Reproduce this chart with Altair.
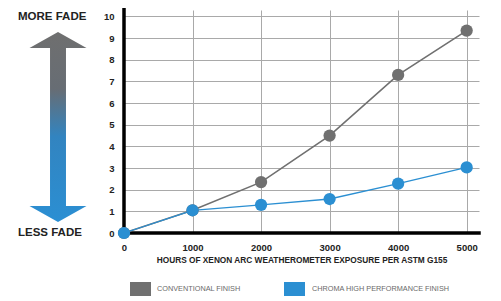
import altair as alt
import pandas as pd

hours = [0, 1000, 2000, 3000, 4000, 5000]
conventional = [0, 1.05, 2.35, 4.5, 7.3, 9.35]
chroma = [0, 1.05, 1.3, 1.57, 2.28, 3.03]
y_ticks = [0, 1, 2, 3, 4, 5, 6, 7, 8, 9, 10]
series_names = ["CONVENTIONAL FINISH", "CHROMA HIGH PERFORMANCE FINISH"]
series_colors = ["#707070", "#2b8fd2"]

FONT = "Liberation Sans"

df_conv = pd.DataFrame({"h": hours, "v": conventional})
df_chr = pd.DataFrame({"h": hours, "v": chroma})
one = pd.DataFrame({"a": [0]})
axis_x_df = pd.DataFrame({"h": [0, 5180], "v": [0, 0]})
axis_y_df = pd.DataFrame({"h": [0, 0], "v": [0, 10.4]})

xscale = alt.Scale(domain=[0, 5180], nice=False, zero=True)
yscale = alt.Scale(domain=[0, 10.3], nice=False)

xaxis = alt.Axis(
    values=hours, format="d", title="HOURS OF XENON ARC WEATHEROMETER EXPOSURE PER ASTM G155",
    domain=False, ticks=False, grid=True, gridColor="#a9a9a9", gridWidth=1,
    labelFont=FONT, labelFontWeight="bold", labelFontSize=9.5, labelColor="#222", labelPadding=9,
    titleFont=FONT, titleFontWeight="bold", titleFontSize=8.3, titleColor="#222", titlePadding=4,
    labelFlush=False, labelOverlap=False)
yaxis = alt.Axis(
    values=y_ticks, format="d", title=None, domain=False, ticks=False, grid=True,
    gridColor="#a9a9a9", gridWidth=1, labelFont=FONT, labelFontWeight="bold", labelFontSize=9.5,
    labelColor="#222", labelPadding=10, labelOverlap=False, labelFlush=False)


def X(field):
    return alt.X(field, type="quantitative", scale=xscale, axis=xaxis)


def Y(field):
    return alt.Y(field, type="quantitative", scale=yscale, axis=yaxis)


base_conv = alt.Chart(df_conv)
base_chr = alt.Chart(df_chr)

# axis lines as data-driven black lines
ax_x = alt.Chart(axis_x_df).mark_line(stroke="black", strokeWidth=3.5, clip=False,
                                      strokeCap="square").encode(x=X("h"), y=Y("v"))
ax_y = alt.Chart(axis_y_df).mark_line(stroke="black", strokeWidth=3.5, clip=False,
                                      strokeCap="square").encode(x=X("h"), y=Y("v"))

l1 = base_conv.mark_line(color=series_colors[0], strokeWidth=1.6, clip=False).encode(x=X("h"), y=Y("v"))
p1 = base_conv.mark_circle(color=series_colors[0], size=150, opacity=1, clip=False).encode(x=X("h"), y=Y("v"))
l2 = base_chr.mark_line(color=series_colors[1], strokeWidth=1.3, clip=False).encode(x=X("h"), y=Y("v"))
p2 = base_chr.mark_circle(color=series_colors[1], size=150, opacity=1, clip=False).encode(x=X("h"), y=Y("v"))

arrow_path = ("M0,-1 L0.3,-0.832 L0.084,-0.832 L0.084,0.832 L0.3,0.832 L0,1 "
              "L-0.3,0.832 L-0.084,0.832 L-0.084,-0.832 L-0.3,-0.832 Z")
grad = alt.Gradient(gradient="linear", x1=0, y1=0, x2=0, y2=1, stops=[
    alt.GradientStop(color="#6f6f6f", offset=0),
    alt.GradientStop(color="#676d74", offset=0.3),
    alt.GradientStop(color="#3284c0", offset=0.55),
    alt.GradientStop(color="#2b8fd3", offset=1),
])
arrow = alt.Chart(one).mark_point(shape=arrow_path, size=36100, filled=True, fill=grad,
                                  strokeWidth=0, opacity=1).encode(
    x=alt.value(-66), y=alt.value(117))

more = alt.Chart(one).mark_text(text="MORE FADE", font=FONT, fontWeight="bold", fontSize=11.5,
                                color="#222", align="left", baseline="middle").encode(
    x=alt.value(-106), y=alt.value(7))
less = alt.Chart(one).mark_text(text="LESS FADE", font=FONT, fontWeight="bold", fontSize=11.5,
                                color="#222", align="left", baseline="middle").encode(
    x=alt.value(-106), y=alt.value(223))

leg_x = [6, 160]
leg_tx = [33, 188]
legend_layers = []
for name, col, x0, tx in zip(series_names, series_colors, leg_x, leg_tx):
    legend_layers.append(alt.Chart(one).mark_rect(color=col).encode(
        x=alt.value(x0), x2=alt.value(x0 + 21), y=alt.value(272), y2=alt.value(286)))
    legend_layers.append(alt.Chart(one).mark_text(
        text=name, font=FONT, fontSize=7.3, color="#6a6a6a", align="left",
        baseline="middle").encode(x=alt.value(tx), y=alt.value(279)))

chart = alt.layer(ax_x, ax_y, l1, l2, p1, p2, arrow, more, less,
                  *legend_layers).properties(
    width=355, height=223,
    autosize=alt.AutoSizeParams(type="none"),
    padding={"left": 116, "top": 2, "right": 14, "bottom": 66},
).configure_view(stroke=None)

chart.save("out.html", embed_options={"renderer": "svg", "actions": False})
